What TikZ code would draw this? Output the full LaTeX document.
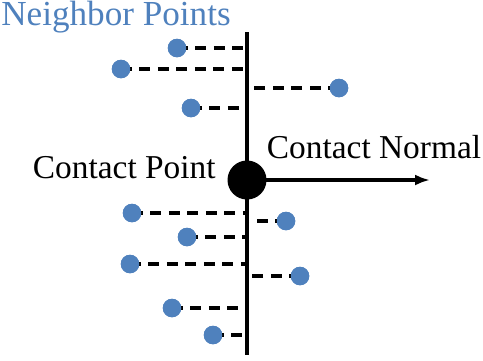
\documentclass[tikz,border=0pt]{standalone}
\usepackage{fontspec}
\setmainfont{Liberation Serif}
\usepackage{xcolor}
\usetikzlibrary{arrows.meta,positioning,calc}
\definecolor{ptblue}{RGB}{79,129,189}

\begin{document}
\begin{tikzpicture}[
    x=0.02cm, y=-0.02cm,
    nbr/.style={circle, fill=ptblue, inner sep=0pt, minimum size=0.37cm},
    contact/.style={circle, fill=black, inner sep=0pt, minimum size=0.78cm},
    label_txt/.style={font=\fontsize{19}{22}\selectfont, inner sep=0pt},
    axis/.style={draw, line width=2pt},
    proj/.style={draw, line width=2.2pt, dash pattern=on 0.22cm off 0.15cm},
    line/.style={draw, -{Latex[length=0.3cm,width=0.22cm]}, line width=2pt}
]
\useasboundingbox (0,0) rectangle (483,360);

% Surface and contact point
\coordinate (top) at (247,32);
\coordinate (bot) at (247,355);
\path[axis] (top) -- (bot);
\node[contact] (cp) at (247,180) {};
\coordinate (tip) at (430,180);
\path[line] (cp.center) -- (tip);

% Labels
\node[label_txt, text=ptblue, anchor=west, font=\fontsize{20}{22}\selectfont] (nlab) at (1,17) {Neighbor Points};
\node[label_txt] (nrm) at (374,147) {Contact Normal};
\node[label_txt, anchor=east] (cpl) at (216,168) {Contact Point};

% Neighbor points
\node[nbr] (n1) at (177,48) {};
\node[nbr] (n2) at (121,69) {};
\node[nbr] (n3) at (339,88) {};
\node[nbr] (n4) at (191,108) {};
\node[nbr] (n5) at (132,213) {};
\node[nbr] (n6) at (286,221) {};
\node[nbr] (n7) at (187,237) {};
\node[nbr] (n8) at (130,264) {};
\node[nbr] (n9) at (300,276) {};
\node[nbr] (n10) at (172,308) {};
\node[nbr] (n11) at (213,335) {};

% Projections onto the surface
\foreach \n in {n1,n2,n3,n4,n5,n6,n7,n8,n9,n10,n11}
    \path[proj] (\n.center) -- (\n -| top);
% redraw dots over dashes
\foreach \n in {n1,n2,n3,n4,n5,n6,n7,n8,n9,n10,n11}
    \fill[ptblue] (\n) circle (0.185cm);

\end{tikzpicture}
\end{document}
